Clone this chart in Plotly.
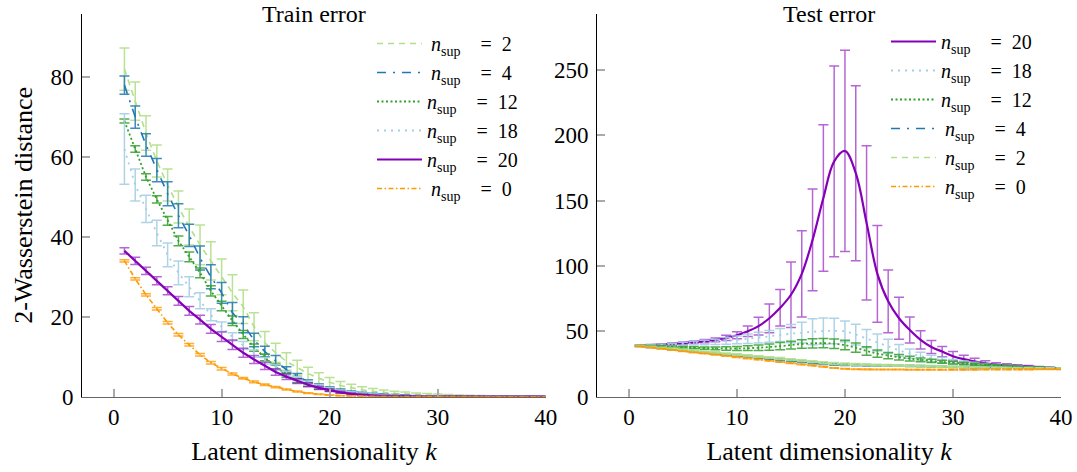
import plotly.graph_objects as go

k = list(range(1, 41))

# ---------------- Train error ----------------
tr_n2 = [82, 74, 66, 59, 53, 47.5, 42.5, 38, 34, 30, 26, 22.5, 17.5, 13.5, 11, 8.8, 7.2, 5.8, 4.6, 3.6,
         2.8, 2.2, 1.7, 1.35, 1.05, 0.85, 0.7, 0.55, 0.45, 0.37, 0.3, 0.25, 0.2, 0.16, 0.13, 0.1, 0.08, 0.06, 0.05, 0.04]
tr_n2_err = [5.3, 4.8, 4.3, 4.0, 4.0, 4.0, 4.5, 5.0, 4.8, 4.5, 4.5, 4.2, 3.5, 2.8, 2.4, 2.2, 1.9, 1.6, 1.4, 1.2,
             1.0, 0.9, 0.8, 0.7, 0.6, 0.5, 0.45, 0.4, 0.35, 0.3, 0.25, 0.2, 0.18, 0.15, 0.12, 0.1, 0.08, 0.06, 0.05, 0.04]
tr_n4 = [78, 70, 63, 56.7, 50.8, 45.3, 40.4, 34.7, 30, 26, 21, 18, 14.2, 11.3, 9.1, 6.7, 5.2, 3.7, 2.8, 2.1,
         1.6, 1.2, 0.9, 0.7, 0.55, 0.42, 0.33, 0.25, 0.2, 0.15, 0.12, 0.09, 0.07, 0.05, 0.04, 0.03, 0.02, 0.02, 0.01, 0.01]
tr_n4_err = [2.3, 2.8, 2.8, 2.9, 3.0, 3.0, 2.8, 3.0, 3.0, 2.6, 2.6, 2.0, 1.7, 1.3, 1.2, 0.8, 0.6, 0.45, 0.4, 0.35,
             0.3, 0.25, 0.2, 0.16, 0.13, 0.1, 0.08, 0.06, 0.05, 0.04, 0.03, 0.03, 0.02, 0.02, 0.01, 0.01, 0.01, 0.01, 0.01, 0.01]
tr_n12 = [69, 62, 55, 49.4, 44, 39, 35, 31, 26.5, 22.7, 19, 15.6, 12.3, 9.8, 7.5, 5.5, 4, 3, 2.2, 1.6,
          1.2, 0.9, 0.65, 0.5, 0.37, 0.28, 0.2, 0.15, 0.11, 0.08, 0.06, 0.05, 0.04, 0.03, 0.02, 0.02, 0.01, 0.01, 0.01, 0.01]
tr_n12_err = [0.5, 0.8, 0.8, 0.9, 1.1, 1.2, 1.2, 1.2, 1.3, 1.2, 1.2, 1.0, 0.9, 0.8, 0.7, 0.6, 0.5, 0.4, 0.3, 0.25,
              0.2, 0.15, 0.12, 0.1, 0.08, 0.06, 0.05, 0.04, 0.03, 0.02, 0.02, 0.01, 0.01, 0.01, 0.01, 0.01, 0.01, 0.01, 0.01, 0.01]
tr_n18 = [62, 53, 47, 41, 35.5, 31, 27.5, 24, 20.5, 17.5, 15, 12.8, 10.8, 9, 7.3, 5.8, 4.5, 3.5, 2.7, 2.0,
          1.5, 1.1, 0.8, 0.6, 0.45, 0.33, 0.25, 0.18, 0.13, 0.1, 0.07, 0.05, 0.04, 0.03, 0.02, 0.02, 0.01, 0.01, 0.01, 0.01]
tr_n18_err = [8.8, 4.0, 3.4, 3.2, 3.0, 3.0, 2.5, 2.0, 1.5, 1.2, 1.0, 1.0, 0.9, 0.8, 0.7, 0.6, 0.5, 0.4, 0.3, 0.25,
              0.2, 0.15, 0.12, 0.1, 0.08, 0.06, 0.05, 0.04, 0.03, 0.02, 0.02, 0.01, 0.01, 0.01, 0.01, 0.01, 0.01, 0.01, 0.01, 0.01]
tr_n20 = [36.5, 34, 31.5, 29, 26.5, 24, 21.5, 19.3, 17, 15, 13, 11, 9.3, 7.7, 6.2, 5, 3.9, 3, 2.2, 1.6,
          1.1, 0.7, 0.45, 0.3, 0.2, 0.12, 0.08, 0.05, 0.03, 0.02, 0.01, 0.01, 0.01, 0, 0, 0, 0, 0, 0, 0]
tr_n20_err = [0.8, 0.9, 0.9, 1.0, 1.0, 1.1, 1.1, 1.1, 1.1, 1.2, 1.2, 1.1, 1.0, 0.9, 0.8, 0.7, 0.6, 0.5, 0.4, 0.3,
              0.25, 0.2, 0.15, 0.1, 0.08, 0.06, 0.04, 0.03, 0.02, 0.01, 0.01, 0.01, 0.01, 0, 0, 0, 0, 0, 0, 0]
tr_n0 = [34, 29.5, 25.5, 22, 18.5, 15.5, 13, 10.5, 8.5, 7, 5.7, 4.6, 3.7, 3.0, 2.4, 1.8, 1.3, 0.9, 0.6, 0.4,
         0.25, 0.15, 0.1, 0.06, 0.04, 0.02, 0.01, 0.01, 0, 0, 0, 0, 0, 0, 0, 0, 0, 0, 0, 0]
tr_n0_err = [0.3, 0.3, 0.3, 0.3, 0.3, 0.3, 0.3, 0.3, 0.3, 0.3, 0.25, 0.2, 0.2, 0.2, 0.15, 0.1, 0.1, 0.1, 0.05, 0.05,
             0.05, 0.03, 0.02, 0.01, 0.01, 0, 0, 0, 0, 0, 0, 0, 0, 0, 0, 0, 0, 0, 0, 0]

# ---------------- Test error ----------------
te_n20 = [39, 39.5, 40, 40.5, 41, 41.7, 42.5, 43.5, 45, 47, 50, 54, 60, 68, 78, 94, 120, 152, 180, 188,
          171, 133, 94, 73, 60, 51, 43.5, 38, 34.5, 31, 28.7, 27, 25.5, 24.5, 24, 23.5, 23, 22.5, 22, 21.7]
te_n20_err = [0.3, 0.4, 0.5, 0.6, 0.8, 1.0, 1.2, 1.5, 2.0, 2.7, 4, 6.7, 11, 14, 25, 33, 39, 56, 73, 77,
              67, 59, 37, 24, 16, 10, 7, 5, 4, 3.5, 3, 2.5, 2, 1.5, 1.2, 1, 0.8, 0.7, 0.6, 0.5]
te_n18 = [39, 39.3, 39.6, 40, 40.5, 41, 41.5, 42, 42.7, 43.5, 44.3, 45.2, 46.2, 47.2, 48.2, 49, 49.7, 50.2, 50.3, 50,
          47.5, 44.5, 41.5, 38.5, 35.5, 33, 31, 29.3, 28, 26.8, 25.8, 25, 24.3, 23.7, 23.2, 22.7, 22.3, 22, 21.7, 21.4]
te_n18_err = [0.3, 0.5, 0.7, 0.9, 1.1, 1.4, 1.7, 2.0, 2.5, 3.0, 3.6, 4.2, 4.5, 5, 7, 8, 10, 10, 9.7, 8,
              8, 7, 6.5, 5.5, 4.5, 3.5, 3, 2.5, 2, 1.7, 1.5, 1.3, 1.1, 1.0, 0.9, 0.8, 0.7, 0.6, 0.5, 0.5]
te_n12 = [39, 38.7, 38.4, 38.1, 37.8, 37.5, 37.2, 37, 36.9, 36.9, 37.1, 37.5, 38, 38.7, 39.5, 40.3, 40.8, 41, 40.5, 39.5,
          37.5, 35, 33, 31.5, 30.2, 29.1, 28.2, 27.4, 26.7, 26, 25.4, 24.8, 24.3, 23.8, 23.4, 23, 22.6, 22.3, 22, 21.7]
te_n12_err = [0.3, 0.4, 0.5, 0.6, 0.7, 0.8, 0.9, 1.1, 1.3, 1.5, 1.8, 2.1, 2.4, 2.7, 3, 3.3, 3.5, 3.6, 3.6, 3.6,
              3.5, 3.2, 2.8, 2.4, 2.1, 1.8, 1.5, 1.3, 1.1, 1.0, 0.9, 0.8, 0.7, 0.6, 0.5, 0.45, 0.4, 0.35, 0.3, 0.3]
te_n4 = [38.8, 38, 37.2, 36.4, 35.6, 34.8, 34, 33.2, 32.4, 31.6, 30.8, 30, 29.2, 28.3, 27.5, 26.7, 25.9, 25.2, 24.7, 24.4,
         24.2, 24.1, 24, 23.9, 23.8, 23.6, 23.4, 23.2, 23, 22.8, 22.6, 22.4, 22.3, 22.2, 22.1, 22, 21.9, 21.8, 21.7, 21.6]
te_n4_err = [0.3, 0.3, 0.3, 0.4, 0.4, 0.4, 0.4, 0.5, 0.5, 0.5, 0.5, 0.6, 0.6, 0.6, 0.6, 0.6, 0.6, 0.6, 0.6, 0.6,
             0.6, 0.6, 0.5, 0.5, 0.5, 0.5, 0.5, 0.4, 0.4, 0.4, 0.4, 0.4, 0.3, 0.3, 0.3, 0.3, 0.3, 0.3, 0.3, 0.3]
te_n2 = [39, 38.3, 37.5, 36.8, 36, 35.3, 34.5, 33.8, 33, 32.3, 31.5, 30.7, 30, 29.2, 28.4, 27.6, 26.8, 26, 25.4, 25,
         24.7, 24.5, 24.3, 24.1, 23.9, 23.7, 23.5, 23.3, 23.1, 22.9, 22.7, 22.5, 22.4, 22.3, 22.2, 22.1, 22, 21.9, 21.8, 21.7]
te_n2_err = [0.3, 0.3, 0.4, 0.4, 0.4, 0.5, 0.5, 0.5, 0.5, 0.6, 0.6, 0.6, 0.6, 0.7, 0.7, 0.7, 0.7, 0.7, 0.7, 0.7,
             0.7, 0.6, 0.6, 0.6, 0.6, 0.5, 0.5, 0.5, 0.5, 0.4, 0.4, 0.4, 0.4, 0.4, 0.3, 0.3, 0.3, 0.3, 0.3, 0.3]
te_n0 = [38.5, 37.6, 36.7, 35.8, 34.8, 33.9, 33.0, 32.1, 31.2, 30.2, 29.3, 28.4, 27.5, 26.5, 25.6, 24.7, 23.8, 22.9, 22.0, 21.3,
         21.0, 20.9, 20.8, 20.8, 20.8, 20.7, 20.7, 20.7, 20.7, 20.7, 20.7, 20.7, 20.8, 20.8, 20.8, 20.9, 20.9, 21.0, 21.0, 21.0]
te_n0_err = [0.2, 0.2, 0.2, 0.2, 0.2, 0.2, 0.2, 0.2, 0.2, 0.2, 0.2, 0.2, 0.2, 0.2, 0.2, 0.2, 0.2, 0.2, 0.2, 0.2,
             0.2, 0.2, 0.2, 0.2, 0.2, 0.2, 0.2, 0.2, 0.2, 0.2, 0.2, 0.2, 0.2, 0.2, 0.2, 0.2, 0.2, 0.2, 0.2, 0.2]

FONT = "Liberation Serif"
C_LG, C_DB, C_G, C_LB, C_P, C_O = "#b2df8a", "#1f78b4", "#33a02c", "#a6cee3", "#8600b8", "#ff9900"
ERRC = {C_LG: "rgba(178,223,138,0.9)", C_DB: "rgba(31,120,180,0.85)", C_G: "rgba(51,160,44,0.85)",
        C_LB: "rgba(166,206,227,0.9)", C_P: "rgba(134,0,184,0.6)", C_O: "rgba(255,153,0,0.8)"}
DASH = {C_LG: "6px,5px", C_DB: "9px,7px,2px,7px", C_G: "2px,2.5px", C_LB: "2px,5px",
        C_P: "solid", C_O: "5px,2.5px,1.5px,2.5px"}
WID = {C_LG: 1.6, C_DB: 1.6, C_G: 1.8, C_LB: 1.8, C_P: 2.2, C_O: 1.6}


def lab(n):
    pad = "\u2009" if n < 10 else ""
    return f"{pad}<i>n</i><sub>sup</sub>\u2003=\u2002{n}"


fig = go.Figure()


def add(y, err, color, n, xa, ya, leg, smooth=False):
    fig.add_trace(go.Scatter(
        x=k, y=y, mode="lines", name=lab(n),
        line=dict(color=color, width=WID[color], dash=DASH[color],
                  shape="spline" if smooth else "linear", smoothing=1.0),
        error_y=dict(type="data", array=err, visible=True, color=ERRC[color], thickness=1.5, width=5),
        xaxis=xa, yaxis=ya, legend=leg))


for y, e, c, n in [(tr_n2, tr_n2_err, C_LG, 2), (tr_n4, tr_n4_err, C_DB, 4), (tr_n12, tr_n12_err, C_G, 12),
                   (tr_n18, tr_n18_err, C_LB, 18), (tr_n20, tr_n20_err, C_P, 20), (tr_n0, tr_n0_err, C_O, 0)]:
    add(y, e, c, n, "x", "y", "legend")

for y, e, c, n in [(te_n20, te_n20_err, C_P, 20), (te_n18, te_n18_err, C_LB, 18), (te_n12, te_n12_err, C_G, 12),
                   (te_n4, te_n4_err, C_DB, 4), (te_n2, te_n2_err, C_LG, 2), (te_n0, te_n0_err, C_O, 0)]:
    add(y, e, c, n, "x2", "y2", "legend2", smooth=True)

W, H = 1077, 472
TICKF = dict(family=FONT, size=23, color="#000")
LABF = dict(family=FONT, size=26, color="#000")
axis_common = dict(showline=True, linecolor="#000", linewidth=1.2, ticks="inside", ticklen=8,
                   tickcolor="#aaaaaa", tickwidth=1.5, showgrid=False, zeroline=False,
                   tickfont=TICKF, automargin=False)
xd1 = [82.3 / W, 545.7 / W]
xd2 = [597.3 / W, 1061.0 / W]
yd = [(H - 396.7) / H, (H - 14.0) / H]

fig.update_layout(
    width=W, height=H, margin=dict(l=0, r=0, t=0, b=0, autoexpand=False),
    paper_bgcolor="white", plot_bgcolor="white",
    font=dict(family=FONT, color="#000"),
    xaxis=dict(domain=xd1, range=[-2.9, 40], tickvals=[0, 10, 20, 30, 40], anchor="y",
               title=dict(text="Latent dimensionality <i>k</i>", font=LABF, standoff=12),
               **{**axis_common, "linecolor": "#666"}),
    yaxis=dict(domain=yd, range=[0, 95.8], tickvals=[0, 20, 40, 60, 80], anchor="x",
               title=dict(text="2-Wasserstein distance", font=LABF, standoff=10),
               ticklabelstandoff=3, **axis_common),
    xaxis2=dict(domain=xd2, range=[-2.93, 40], tickvals=[0, 10, 20, 30, 40], anchor="y2",
                title=dict(text="Latent dimensionality <i>k</i>", font=LABF, standoff=12),
                **{**axis_common, "linecolor": "#666"}),
    yaxis2=dict(domain=yd, range=[0, 292.8], tickvals=[0, 50, 100, 150, 200, 250], anchor="x2",
                ticklabelstandoff=3, **axis_common),
    legend=dict(x=372 / W, y=1 - 24 / H, xanchor="left", yanchor="top", bgcolor="rgba(0,0,0,0)",
                font=dict(family=FONT, size=20), itemwidth=45, tracegroupgap=0),
    legend2=dict(x=886 / W, y=1 - 22 / H, xanchor="left", yanchor="top", bgcolor="rgba(0,0,0,0)",
                 font=dict(family=FONT, size=20), itemwidth=45, tracegroupgap=0),
    annotations=[
        dict(text="Train error", x=sum(xd1) / 2, y=yd[1], xref="paper", yref="paper",
             xanchor="center", yanchor="middle", showarrow=False, font=dict(family=FONT, size=24)),
        dict(text="Test error", x=sum(xd2) / 2, y=yd[1], xref="paper", yref="paper",
             xanchor="center", yanchor="middle", showarrow=False, font=dict(family=FONT, size=24)),
    ],
)

fig.write_html("out.html")
